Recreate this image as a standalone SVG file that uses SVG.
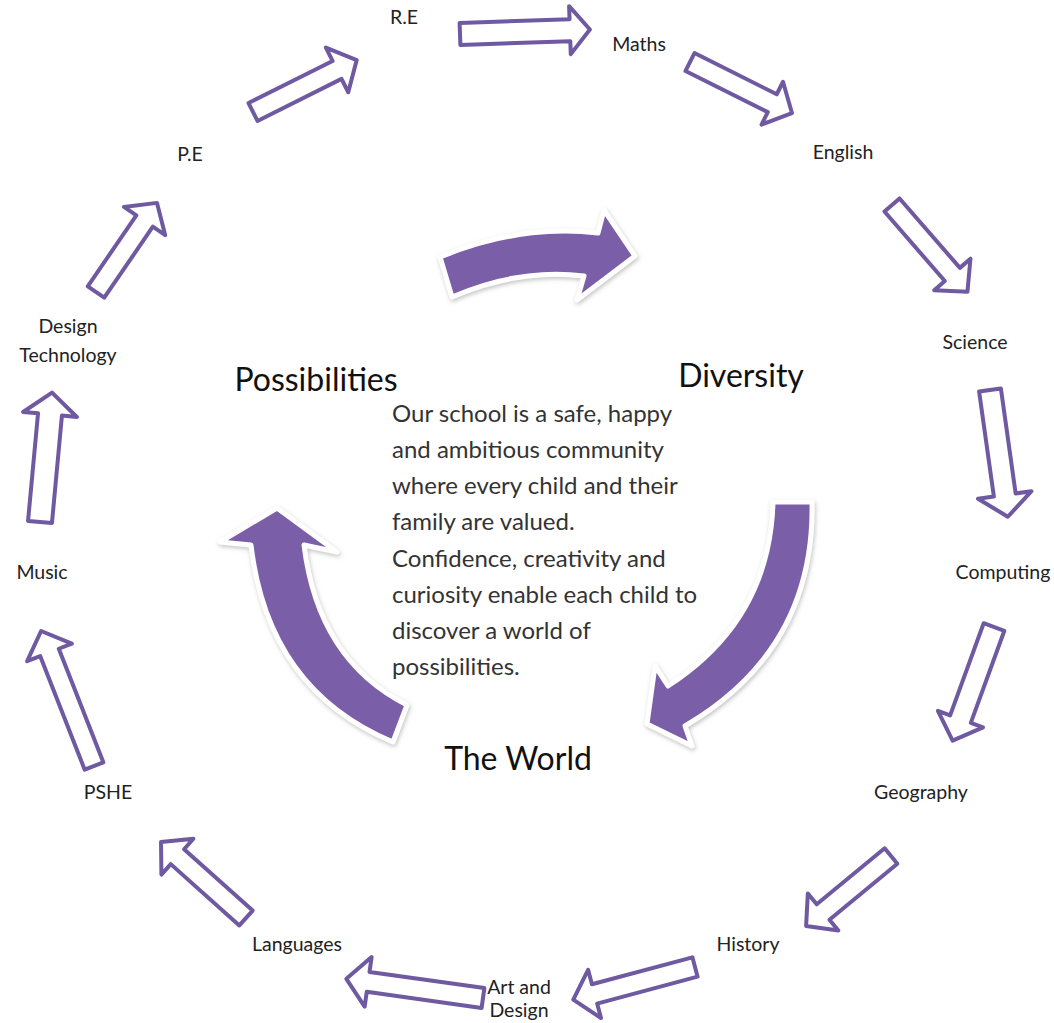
<svg xmlns="http://www.w3.org/2000/svg" width="1054" height="1023" viewBox="0 0 1054 1023">
<defs>
<style>
.lbl{font-family:Lato,"Open Sans",sans-serif;font-size:19.5px;fill:#222;text-anchor:middle}
.big{font-family:Lato,"Open Sans",sans-serif;font-size:32px;fill:#111;text-anchor:middle}
.para{font-family:Lato,"Open Sans",sans-serif;font-size:24px;fill:#333}
.oa{fill:#fff;stroke:#6f59a0;stroke-width:4;stroke-linejoin:round}
.ca{fill:#7a5ea8;stroke:#fff;stroke-width:5;stroke-linejoin:round;filter:url(#sh)}
</style>
<filter id="sh" x="-20%" y="-20%" width="140%" height="140%">
<feDropShadow dx="1" dy="2" stdDeviation="2" flood-color="#888" flood-opacity="0.5"/>
</filter>
</defs>
<rect width="1054" height="1023" fill="#fff"/>
<g id="connectors">
<polygon class="oa" transform="translate(253,112) rotate(-26.6)" points="0,-10 94,-10 94,-25 116,0 94,25 94,10 0,10"/>
<polygon class="oa" transform="translate(460,34) rotate(-2)" points="0,-11 110,-11 110,-24 130,0 110,24 110,11 0,11"/>
<polygon class="oa" transform="translate(690,62) rotate(26.6)" points="0,-10 92,-10 92,-24 114,0 92,24 92,10 0,10"/>
<polygon class="oa" transform="translate(892,205) rotate(49)" points="0,-10 92,-10 92,-24 115,0 92,24 92,10 0,10"/>
<polygon class="oa" transform="translate(990,390) rotate(82)" points="0,-11 106,-11 106,-27 128,0 106,27 106,11 0,11"/>
<polygon class="oa" transform="translate(994,627) rotate(110)" points="0,-11 98,-11 98,-24 121,0 98,24 98,11 0,11"/>
<polygon class="oa" transform="translate(891,856) rotate(140.5)" points="0,-10 88,-10 88,-24 110,0 88,24 88,10 0,10"/>
<polygon class="oa" transform="translate(695,967) rotate(165)" points="0,-10 104,-10 104,-25 126,0 104,25 104,10 0,10"/>
<polygon class="oa" transform="translate(483,998) rotate(188)" points="0,-10 116,-10 116,-25 138,0 116,25 116,10 0,10"/>
<polygon class="oa" transform="translate(246,918) rotate(221.8)" points="0,-10 92,-10 92,-24 114,0 92,24 92,10 0,10"/>
<polygon class="oa" transform="translate(94,766) rotate(248.6)" points="0,-10 122,-10 122,-24 145,0 122,24 122,10 0,10"/>
<polygon class="oa" transform="translate(40,522) rotate(-84.7)" points="0,-12 108,-12 108,-27 130,0 108,27 108,12 0,12"/>
<polygon class="oa" transform="translate(96,292) rotate(-55.6)" points="0,-10 86,-10 86,-25 108,0 86,25 86,10 0,10"/>
</g>
<g id="center-arrows">
<path class="ca" d="M440,257 Q520,224 598,233 L604,210 L635,256 L577,300 L584,276 Q520,268 452,297 Z"/>
<path class="ca" d="M773,502 L812,502 Q815,650 685,726 L692,746 L647,724 L655,666 L668,686 Q770,620 773,502 Z"/>
<path class="ca" d="M277,508 L337,552 L304,545 Q318,660 407,705 L393,742 Q268,690 251,545 L220,542 Z"/>
</g>
<g id="node-re"><text class="lbl" x="404" y="24">R.E</text></g>
<g id="node-maths"><text class="lbl" x="639" y="51">Maths</text></g>
<g id="node-english"><text class="lbl" x="843" y="159">English</text></g>
<g id="node-science"><text class="lbl" x="975" y="349">Science</text></g>
<g id="node-computing"><text class="lbl" x="1003" y="579">Computing</text></g>
<g id="node-geography"><text class="lbl" x="921" y="799">Geography</text></g>
<g id="node-history"><text class="lbl" x="748" y="951">History</text></g>
<g id="node-art"><text class="lbl" x="519" y="994">Art and</text><text class="lbl" x="519" y="1017">Design</text></g>
<g id="node-languages"><text class="lbl" x="297" y="951">Languages</text></g>
<g id="node-pshe"><text class="lbl" x="108" y="799">PSHE</text></g>
<g id="node-music"><text class="lbl" x="42" y="579">Music</text></g>
<g id="node-dt"><text class="lbl" x="68" y="333">Design</text><text class="lbl" x="68" y="362">Technology</text></g>
<g id="node-pe"><text class="lbl" x="190" y="161">P.E</text></g>
<g id="node-possibilities"><text class="big" x="316" y="391">Possibilities</text></g>
<g id="node-diversity"><text class="big" x="741" y="387">Diversity</text></g>
<g id="node-world"><text class="big" x="518" y="770">The World</text></g>
<g id="statement">
<text class="para" x="392" y="422">Our school is a safe, happy</text>
<text class="para" x="392" y="458">and ambitious community</text>
<text class="para" x="392" y="494">where every child and their</text>
<text class="para" x="392" y="530">family are valued.</text>
<text class="para" x="392" y="567">Confidence, creativity and</text>
<text class="para" x="392" y="603">curiosity enable each child to</text>
<text class="para" x="392" y="639">discover a world of</text>
<text class="para" x="392" y="675">possibilities.</text>
</g>
</svg>
